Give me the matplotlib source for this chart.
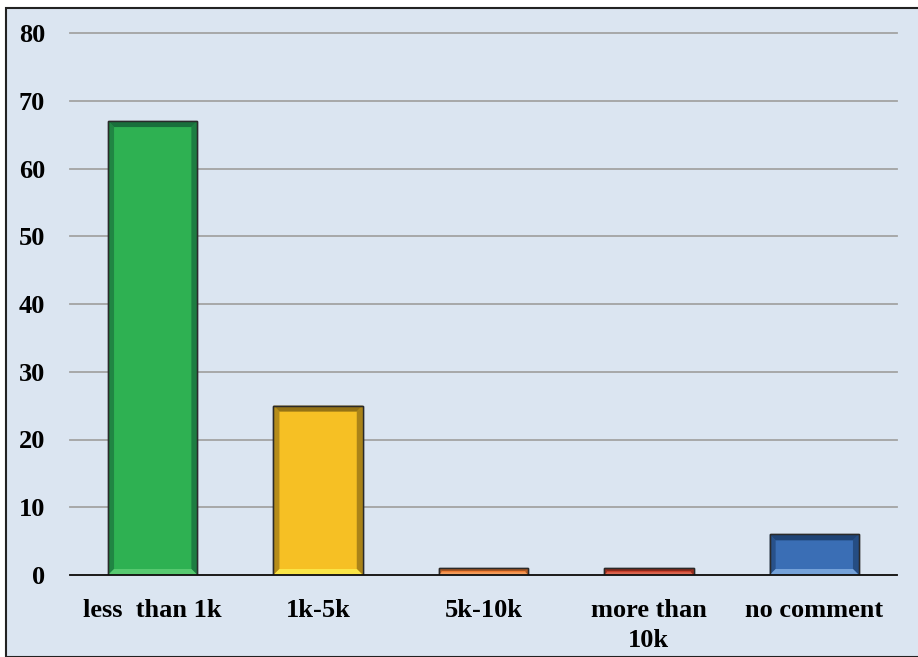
import numpy as np
import matplotlib.pyplot as plt
from matplotlib.patches import Rectangle, Polygon

plt.rcParams['font.family'] = ['Liberation Serif', 'DejaVu Serif']
plt.rcParams['font.weight'] = 'bold'

# survey answers
categories = ['less  than 1k', '1k-5k', '5k-10k', 'more than\n10k', 'no comment']
values = [67, 25, 1, 1, 6]
face_colors = ['#2EB152', '#F6C024', '#EE7D33', '#C8402B', '#3A6EB5']
dark_colors = ['#17683A', '#8A6A14', '#9A4E1E', '#7E2518', '#1D3F6E']
light_colors = ['#5ACB72', '#FBE84A', '#F5A060', '#DD6A55', '#79A6DC']

bg = '#DBE5F1'
W, H = 918, 657

fig = plt.figure(figsize=(W / 100, H / 100), dpi=100, facecolor='white')

# light blue panel with a dark frame (runs off the right edge)
panel = Rectangle((5.5 / W, 0.5 / H), 920 / W, 649 / H,
                  transform=fig.transFigure, facecolor=bg,
                  edgecolor='#222222', linewidth=1.5, zorder=-10)
fig.add_artist(panel)

ax = fig.add_axes([70 / W, 1 - 575 / H, 827 / W, 542 / H])
ax.set_zorder(1)
ax.patch.set_visible(False)

x = np.arange(len(categories))
width = 0.54
bars = ax.bar(x, values, width=width, color=face_colors, edgecolor='#2A2A2A',
              linewidth=1.0, zorder=3)

ax.set_xlim(-0.5, len(categories) - 0.5)
ax.set_ylim(0, 80)
ax.set_yticks(np.arange(0, 81, 10))
ax.yaxis.grid(True, color='#A3A3A3', linewidth=1.3, zorder=0)
for gl in ax.get_ygridlines():
    gl.set_clip_on(False)
ax.set_axisbelow(True)
for side in ['left', 'right', 'top']:
    ax.spines[side].set_visible(False)
ax.spines['bottom'].set_color('#111111')
ax.spines['bottom'].set_linewidth(1.3)
ax.spines['bottom'].set_zorder(5)
ax.tick_params(axis='y', length=0, pad=18, labelsize=19)
ax.tick_params(axis='x', length=0, pad=17, labelsize=19)
ax.set_xticks(x)
ax.set_xticklabels(categories, linespacing=1.4, va='top')
for lbl in ax.get_xticklabels() + ax.get_yticklabels():
    lbl.set_fontweight('bold')

# bevelled bar look: dark top/left/right rims and a light bottom rim
fig.canvas.draw()
to_px = ax.transData
to_data = ax.transData.inverted()
bev = 6  # bevel size in pixels
for bar, dark, light in zip(bars, dark_colors, light_colors):
    x0, y0 = bar.get_x(), bar.get_y()
    x1, y1 = x0 + bar.get_width(), y0 + bar.get_height()
    (px0, py0), (px1, py1) = to_px.transform([(x0, y0), (x1, y1)])
    b = min(bev, (py1 - py0) / 2.5)
    outer = [(px0, py0), (px0, py1), (px1, py1), (px1, py0)]
    inner = [(px0 + b, py0 + b), (px0 + b, py1 - b), (px1 - b, py1 - b), (px1 - b, py0 + b)]
    sides = [
        ([outer[0], outer[1], inner[1], inner[0]], dark, 0.6),    # left
        ([outer[1], outer[2], inner[2], inner[1]], dark, 0.9),    # top
        ([outer[2], outer[3], inner[3], inner[2]], dark, 0.7),    # right
        ([outer[3], outer[0], inner[0], inner[3]], light, 0.95),  # bottom
    ]
    for pts, col, a in sides:
        poly = Polygon(to_data.transform(pts), closed=True, facecolor=col,
                       edgecolor='none', alpha=a, zorder=4)
        ax.add_patch(poly)
    ax.add_patch(Rectangle((x0, y0), x1 - x0, y1 - y0, facecolor='none',
                           edgecolor='#2A2A2A', linewidth=1.0, zorder=4.5))

fig.savefig('out.png', dpi=100, facecolor='white')
